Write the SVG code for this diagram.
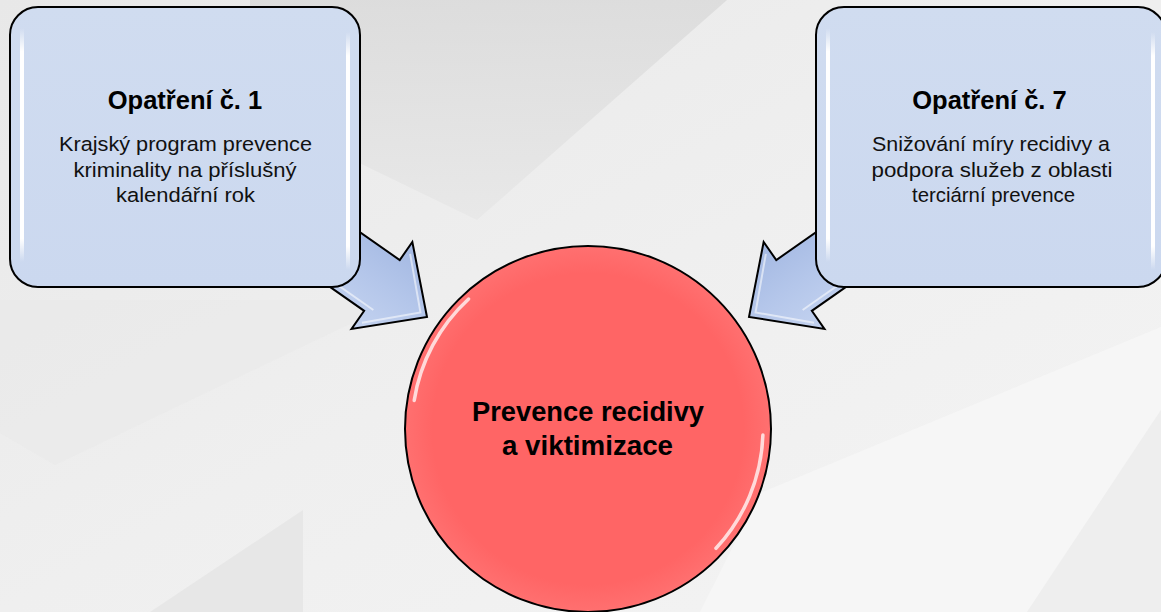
<svg xmlns="http://www.w3.org/2000/svg" width="1161" height="612" viewBox="0 0 1161 612">
<style>
.box{fill:url(#boxFill);stroke:#000;stroke-width:2}
.title{font-family:"Liberation Sans",Arial,sans-serif;font-weight:bold;font-size:25.5px;fill:#000;text-anchor:middle}
.body{font-family:"Liberation Sans",Arial,sans-serif;font-size:20.5px;fill:#111;text-anchor:middle}
.ctext{font-family:"Liberation Sans",Arial,sans-serif;font-weight:bold;font-size:27px;fill:#000;text-anchor:middle}
.arrow{fill:url(#arrowFill);stroke:#000;stroke-width:2;stroke-linejoin:miter}
.bevel{fill:none;stroke:#fff;stroke-width:2;opacity:0.55}
</style>
<defs>
<linearGradient id="bg" x1="0" y1="0" x2="1" y2="1">
<stop offset="0" stop-color="#e8e8e8"/>
<stop offset="0.5" stop-color="#efefef"/>
<stop offset="1" stop-color="#f4f4f4"/>
</linearGradient>
<linearGradient id="darkTop" x1="0" y1="0" x2="0" y2="1">
<stop offset="0" stop-color="#d9d9d9"/>
<stop offset="1" stop-color="#e7e7e7"/>
</linearGradient>
<linearGradient id="boxFill" x1="0" y1="0" x2="0" y2="1">
<stop offset="0" stop-color="#d0dcf0"/>
<stop offset="1" stop-color="#cbd8ef"/>
</linearGradient>
<linearGradient id="arrowFill" x1="0" y1="0" x2="0" y2="1">
<stop offset="0" stop-color="#a3b8e2"/>
<stop offset="0.5" stop-color="#b4c6ea"/>
<stop offset="1" stop-color="#c4d3f0"/>
</linearGradient>
<radialGradient id="circFill" cx="0.5" cy="0.5" r="0.5">
<stop offset="0.85" stop-color="#ff6565"/>
<stop offset="1" stop-color="#ff7070"/>
</radialGradient>
<linearGradient id="vfade" x1="0" y1="0" x2="0" y2="1">
<stop offset="0" stop-color="#fff" stop-opacity="0"/>
<stop offset="0.1" stop-color="#fff" stop-opacity="1"/>
<stop offset="0.9" stop-color="#fff" stop-opacity="1"/>
<stop offset="1" stop-color="#fff" stop-opacity="0"/>
</linearGradient>
</defs>

<g id="background">
<rect x="0" y="0" width="1161" height="612" fill="url(#bg)"/>
<polygon points="250,0 727,0 477,220 250,110" fill="url(#darkTop)" opacity="0.8"/>
<polygon points="0,300 400,300 55,465 0,433" fill="#eaeaea" opacity="0.8"/>
<polygon points="150,612 303,510 303,612" fill="#e7e7e7"/>
<polygon points="760,493 1161,327 1161,410 1027,612 700,612" fill="#f6f6f6"/>
<polygon points="1161,410 1161,612 1027,612" fill="#eeeeee"/>
</g>

<g id="connectors">
<g id="arrow-left" transform="translate(427,317) rotate(35)">
<polygon class="arrow" points="0,0 -55,-53 -55,-31 -260,-31 -260,31 -55,31 -55,53"/>
<polyline class="bevel" points="-50,-42 -8,0 -50,42"/>
<line class="bevel" x1="-48" y1="25" x2="-200" y2="25" opacity="0.35"/>
</g>
<g id="arrow-right" transform="translate(749,317) scale(-1,1) rotate(35)">
<polygon class="arrow" points="0,0 -55,-53 -55,-31 -260,-31 -260,31 -55,31 -55,53"/>
<polyline class="bevel" points="-50,-42 -8,0 -50,42"/>
<line class="bevel" x1="-48" y1="25" x2="-200" y2="25" opacity="0.35"/>
</g>
</g>

<g id="node-opatreni-1">
<rect class="box" x="10" y="7" width="350" height="280" rx="28" ry="28"/>
<rect x="20" y="28" width="4" height="234" fill="url(#vfade)"/>
<rect x="346" y="32" width="4" height="238" fill="url(#vfade)"/>
<text class="title" x="185" y="109">Opatření č. 1</text>
<text class="body" x="185.5" y="151" textLength="253" lengthAdjust="spacingAndGlyphs">Krajský program prevence</text>
<text class="body" x="185" y="176.5" textLength="223" lengthAdjust="spacingAndGlyphs">kriminality na příslušný</text>
<text class="body" x="185.5" y="202" textLength="139" lengthAdjust="spacingAndGlyphs">kalendářní rok</text>
</g>

<g id="node-opatreni-7">
<rect class="box" x="816" y="7" width="350" height="280" rx="28" ry="28"/>
<rect x="826" y="28" width="4" height="234" fill="url(#vfade)"/>
<rect x="1151" y="32" width="4" height="238" fill="url(#vfade)"/>
<text class="title" x="989.5" y="109">Opatření č. 7</text>
<text class="body" x="991" y="151" textLength="238" lengthAdjust="spacingAndGlyphs">Snižování míry recidivy a</text>
<text class="body" x="992" y="176.5" textLength="241" lengthAdjust="spacingAndGlyphs">podpora služeb z oblasti</text>
<text class="body" x="993.5" y="202" textLength="163" lengthAdjust="spacingAndGlyphs">terciární prevence</text>
</g>

<g id="node-center">
<circle cx="588" cy="429" r="183" fill="url(#circFill)" stroke="#000" stroke-width="2"/>
<path d="M 414.2 400.5 A 175 175 0 0 1 468.6 299" fill="none" stroke="#fff" stroke-width="3.5" stroke-linecap="round" opacity="0.75"/>
<path d="M 762.9 435 A 175 175 0 0 1 716 548.3" fill="none" stroke="#fff" stroke-width="3.5" stroke-linecap="round" opacity="0.75"/>
<text class="ctext" x="588" y="421" textLength="232" lengthAdjust="spacingAndGlyphs">Prevence recidivy</text>
<text class="ctext" x="587.5" y="455" textLength="171" lengthAdjust="spacingAndGlyphs">a viktimizace</text>
</g>
</svg>
